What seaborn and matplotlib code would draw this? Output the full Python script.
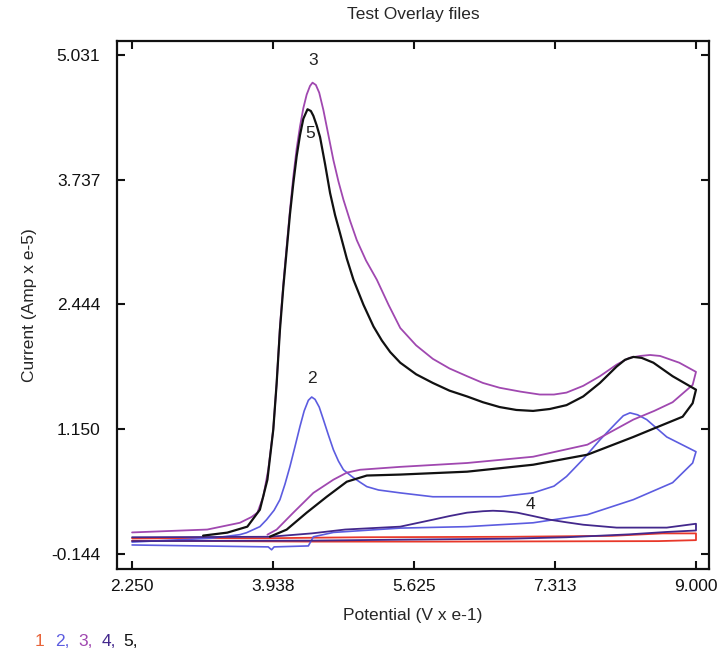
import matplotlib
matplotlib.use("Agg")
import matplotlib.pyplot as plt
import seaborn as sns

# curve 1 (red) - nearly flat background scan
c1_x = [2.25, 3.90, 4.40, 5.00, 6.80, 8.00, 8.60, 9.00, 9.00, 8.55, 6.00, 4.40, 2.25]
c1_y = [0.02, 0.02, 0.025, 0.03, 0.035, 0.045, 0.07, 0.07, 0.00, -0.01, -0.015, -0.015, -0.005]

# curve 2 (blue)
c2_x = [2.25, 3.20, 3.54, 3.62, 3.78, 3.86, 3.95, 4.02, 4.08, 4.14, 4.20, 4.26, 4.31, 4.36,
        4.40, 4.44, 4.49, 4.54, 4.60, 4.66, 4.72, 4.78, 4.88, 4.98, 5.06, 5.20, 5.46, 5.85,
        6.65, 7.05, 7.30, 7.45, 7.65, 7.85, 8.05, 8.13, 8.21, 8.30, 8.41, 8.65, 9.00,
        8.96, 8.72, 8.25, 7.70, 7.05, 6.26, 5.46, 4.66, 4.42, 4.36, 3.95, 3.92, 3.88, 2.25]
c2_y = [-0.02, 0.02, 0.057, 0.077, 0.14, 0.212, 0.31, 0.42, 0.58, 0.764, 0.97, 1.18, 1.34, 1.45,
        1.484, 1.46, 1.38, 1.25, 1.09, 0.937, 0.82, 0.73, 0.66, 0.60, 0.555, 0.52, 0.49, 0.45,
        0.45, 0.49, 0.56, 0.66, 0.84, 1.04, 1.22, 1.29, 1.32, 1.30, 1.25, 1.07, 0.917,
        0.80, 0.596, 0.42, 0.264, 0.18, 0.14, 0.125, 0.08, 0.035, -0.06, -0.07, -0.10, -0.07, -0.05]

# curve 3 (magenta)
c3_x = [2.25, 3.15, 3.54, 3.68, 3.75, 3.82, 3.88, 3.94, 3.98, 4.02, 4.06, 4.10, 4.14, 4.18,
        4.22, 4.26, 4.30, 4.34, 4.38, 4.41, 4.45, 4.49, 4.54, 4.60, 4.66, 4.72, 4.78, 4.86,
        4.94, 5.05, 5.18, 5.32, 5.46, 5.65, 5.85, 6.05, 6.26, 6.45, 6.65, 6.90, 7.13, 7.30,
        7.45, 7.65, 7.85, 8.05, 8.20, 8.33, 8.45, 8.57, 8.80, 9.00,
        8.96, 8.72, 8.50, 8.25, 7.70, 7.05, 6.26, 5.46, 4.98, 4.82, 4.66, 4.42, 4.18, 3.98, 3.87]
c3_y = [0.08, 0.11, 0.18, 0.24, 0.285, 0.45, 0.73, 1.15, 1.62, 2.215, 2.65, 3.04, 3.42, 3.77,
        4.06, 4.29, 4.48, 4.62, 4.71, 4.744, 4.72, 4.64, 4.46, 4.20, 3.94, 3.72, 3.53, 3.31,
        3.11, 2.90, 2.70, 2.44, 2.20, 2.02, 1.88, 1.78, 1.70, 1.63, 1.58, 1.54, 1.51, 1.51,
        1.53, 1.60, 1.70, 1.82, 1.89, 1.91, 1.92, 1.91, 1.84, 1.745,
        1.61, 1.43, 1.34, 1.25, 0.99, 0.865, 0.80, 0.76, 0.73, 0.70, 0.627, 0.49, 0.285, 0.109, 0.057]

# curve 4 (dark purple)
c4_x = [2.25, 3.90, 4.40, 4.80, 5.46, 5.85, 6.05, 6.26, 6.45, 6.57, 6.70, 6.86, 7.05, 7.25,
        7.45, 7.65, 8.05, 8.65, 9.00,
        9.00, 8.65, 8.20, 7.45, 6.77, 5.46, 4.40, 2.25]
c4_y = [0.03, 0.035, 0.07, 0.11, 0.14, 0.212, 0.25, 0.285, 0.30, 0.305, 0.30, 0.285, 0.25, 0.212,
        0.185, 0.16, 0.13, 0.13, 0.17,
        0.10, 0.085, 0.06, 0.03, 0.015, 0.005, -0.005, -0.01]

# curve 5 (black)
c5_x = [3.10, 3.39, 3.63, 3.78, 3.87, 3.94, 3.98, 4.02, 4.06, 4.10, 4.14, 4.18, 4.22, 4.26,
        4.30, 4.35, 4.39, 4.42, 4.46, 4.50, 4.56, 4.62, 4.68, 4.74, 4.82, 4.90, 5.02, 5.14,
        5.24, 5.34, 5.46, 5.65, 5.85, 6.05, 6.26, 6.45, 6.65, 6.85, 7.05, 7.25, 7.45, 7.65,
        7.85, 8.05, 8.15, 8.25, 8.35, 8.49, 8.72, 9.00,
        8.96, 8.84, 8.53, 8.25, 7.70, 7.05, 6.26, 5.46, 5.06, 4.82, 4.58, 4.34, 4.10, 3.90]
c5_y = [0.047, 0.078, 0.14, 0.316, 0.627, 1.145, 1.62, 2.18, 2.62, 3.00, 3.38, 3.70, 3.98, 4.20,
        4.37, 4.468, 4.45, 4.40, 4.30, 4.18, 3.90, 3.60, 3.37, 3.18, 2.92, 2.70, 2.44, 2.215,
        2.07, 1.95, 1.84, 1.72, 1.63, 1.55, 1.49, 1.43, 1.38, 1.35, 1.34, 1.36, 1.40, 1.49,
        1.63, 1.80, 1.87, 1.90, 1.89, 1.84, 1.70, 1.56,
        1.42, 1.28, 1.17, 1.07, 0.886, 0.782, 0.71, 0.68, 0.67, 0.606, 0.45, 0.285, 0.109, 0.036]

x_ticks = [2.250, 3.938, 5.625, 7.313, 9.000]
y_ticks = [-0.144, 1.150, 2.444, 3.737, 5.031]

curves = [
    ("1", c1_x, c1_y, "#e8382a", 1.3),
    ("2", c2_x, c2_y, "#5c5ce0", 1.2),
    ("3", c3_x, c3_y, "#a048b0", 1.3),
    ("4", c4_x, c4_y, "#43288c", 1.3),
    ("5", c5_x, c5_y, "#111111", 1.6),
]
# label positions for the peak numbers
peak_labels = {"3": (4.42, 4.97), "5": (4.38, 4.22), "2": (4.40, 1.68), "4": (7.02, 0.37)}

sns.set_theme(style="ticks")
plt.rcParams["font.family"] = ["Liberation Sans", "DejaVu Sans"]

fig = plt.figure(figsize=(7.18, 6.59), dpi=100)
ax = fig.add_axes([0.163, 0.1366, 0.8245, 0.8012])

for name, xs, ys, col, lw in curves:
    sns.lineplot(x=xs, y=ys, sort=False, estimator=None, color=col, linewidth=lw, ax=ax)

for name, (lx, ly) in peak_labels.items():
    ax.text(lx, ly, name, fontsize=12.5, ha="center", va="center", color="#222222")

ax.set_xlim(2.07, 9.156)
ax.set_ylim(-0.299, 5.176)
ax.set_xticks(x_ticks)
ax.set_yticks(y_ticks)
ax.set_xticklabels([f"{v:.3f}" for v in x_ticks])
ax.set_yticklabels([f"{v:.3f}" for v in y_ticks])
ax.tick_params(direction="in", length=6, width=1.5, top=True, right=True,
               labelsize=12.5, colors="#111111")
ax.tick_params(axis="y", pad=12)
ax.tick_params(axis="x", pad=7)
for sp in ax.spines.values():
    sp.set_linewidth(1.6)
    sp.set_color("#111111")
    sp.set_visible(True)

ax.set_title("Test Overlay files", fontsize=12.5, pad=16)
ax.set_xlabel("Potential (V x e-1)", fontsize=12.5, labelpad=10)
ax.set_ylabel("Current (Amp x e-5)", fontsize=12.5, labelpad=10)

# coloured file legend underneath
legend_items = [("1", "#e8643a", 0.048), ("2,", "#5c5ce0", 0.077), ("3,", "#a048b0", 0.109),
                ("4,", "#43288c", 0.141), ("5,", "#111111", 0.172)]
for txt, col, xpos in legend_items:
    fig.text(xpos, 0.027, txt, color=col, fontsize=12.5, va="center")

fig.savefig("out.png", dpi=100)
